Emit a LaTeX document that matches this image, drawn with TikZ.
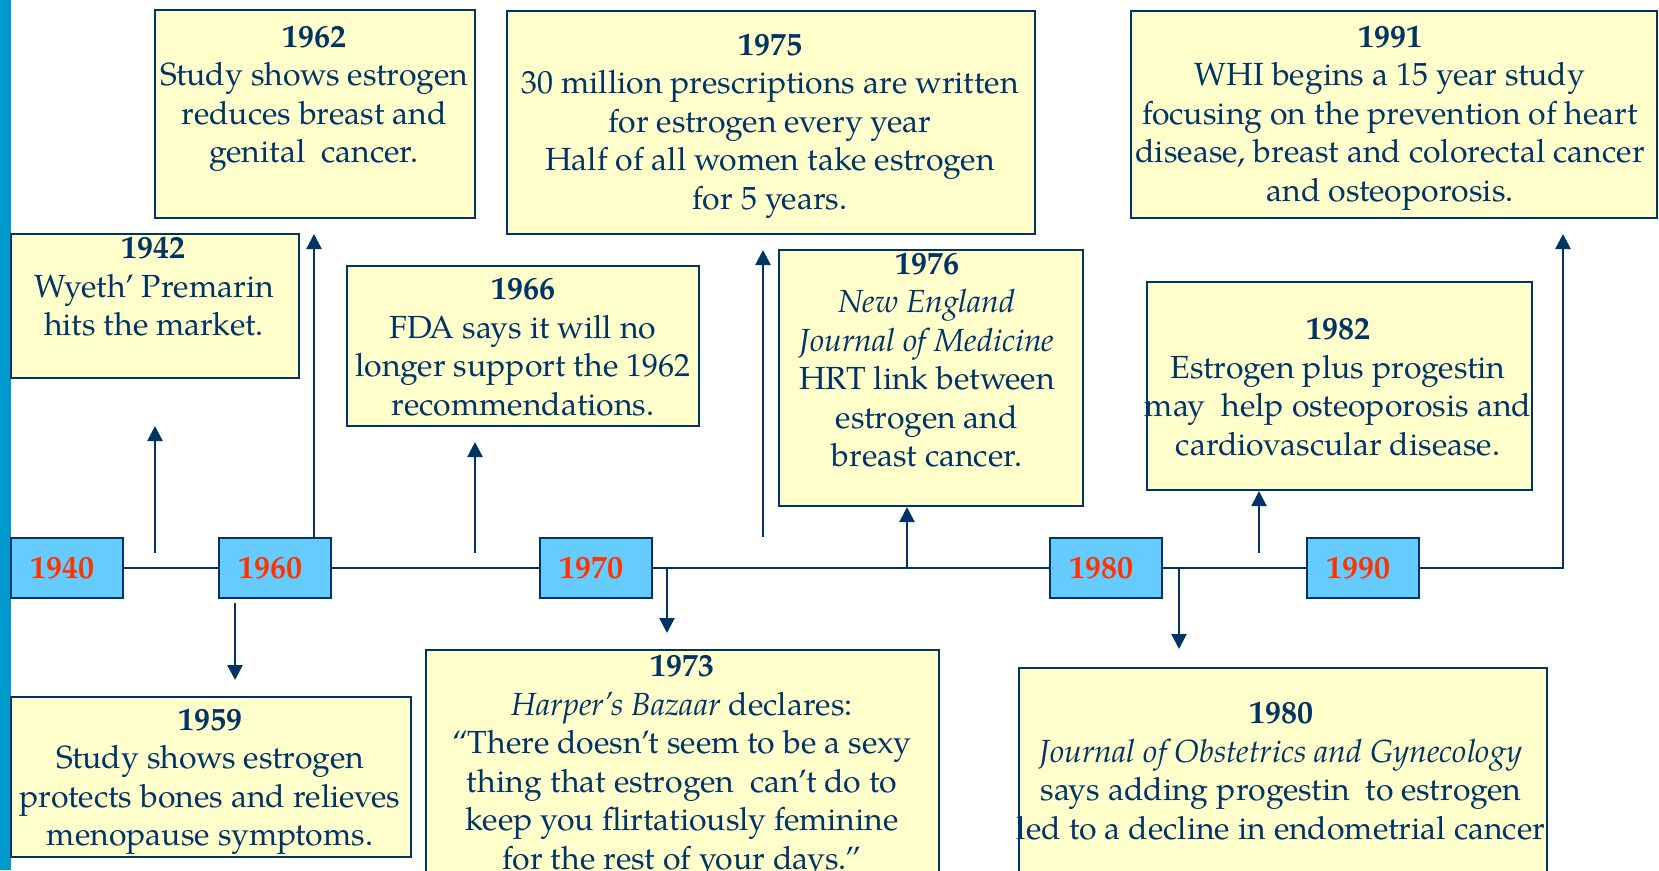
\documentclass[tikz,border=0pt]{standalone}
\usepackage{fontspec}
\setmainfont{texgyrepagella}[Extension=.otf, UprightFont=*-regular, BoldFont=*-bold, ItalicFont=*-italic, BoldItalicFont=*-bolditalic]
\usetikzlibrary{arrows.meta}
\definecolor{inkblue}{HTML}{003366}
\definecolor{paper}{HTML}{FFFFCC}
\definecolor{yearfill}{HTML}{66CCFF}
\definecolor{yearred}{HTML}{FF3300}
\definecolor{barblue}{HTML}{0099CC}
\tikzstyle{card} = [rectangle, draw=inkblue, fill=paper, line width=2.2pt, inner sep=0pt]
\tikzstyle{txt} = [text=inkblue, align=center, inner sep=0pt, font=\fontsize{32}{38.5}\selectfont]
\tikzstyle{year} = [rectangle, draw=inkblue, fill=yearfill, line width=2.6pt, minimum width=112pt, minimum height=60pt, text=yearred, font=\fontsize{32}{38}\selectfont\bfseries]
\tikzstyle{link} = [draw=inkblue, line width=2.4pt]

\begin{document}
\begin{tikzpicture}[x=1pt,y=-1pt,>={Triangle[width=15pt,length=15pt]}]
    \clip (0,0) rectangle (1659,870);
    \fill[white] (0,0) rectangle (1659,870);
    \fill[barblue] (0,0) rectangle (11,870);

    \node at (315,114) [card,minimum width=320pt,minimum height=208pt] (b1962) {};
    \node at (155,306) [card,minimum width=288pt,minimum height=144pt] (b1942) {};
    \node at (523,346) [card,minimum width=352pt,minimum height=160pt] (b1966) {};
    \node at (771,122.5) [card,minimum width=528pt,minimum height=223pt] (b1975) {};
    \node at (931,378) [card,minimum width=304pt,minimum height=256pt] (b1976) {};
    \node at (1394,114.5) [card,minimum width=526pt,minimum height=207pt] (b1991) {};
    \node at (1339.5,386) [card,minimum width=385pt,minimum height=208pt] (b1982) {};
    \node at (211,777) [card,minimum width=400pt,minimum height=160pt] (b1959) {};
    \node at (682.5,775) [card,minimum width=513pt,minimum height=250pt] (b1973) {};
    \node at (1283,784) [card,minimum width=528pt,minimum height=232pt] (b1980) {};

    \node at (314,99) [txt] (t1962) {\textbf{1962}\\Study shows estrogen\\reduces breast and\\genital\ \ cancer.};
    \node at (154,287) [txt] (t1942) {\textbf{1942}\\Wyeth’ Premarin\\hits the market.};
    \node at (523,347) [txt] (t1966) {\textbf{1966}\\FDA says it will no\\longer support the 1962\\recommendations.};
    \node at (770,126) [txt] (t1975) {\textbf{1975}\\30 million prescriptions are written\\for estrogen every year\\Half of all women take estrogen\\for 5 years.};
    \node at (927,360) [txt] (t1976) {\textbf{1976}\\\textit{New England}\\\textit{Journal of Medicine}\\HRT link between\\estrogen and\\breast cancer.};
    \node at (1390,118) [txt] (t1991) {\textbf{1991}\\WHI begins a 15 year study\\focusing on the prevention of heart\\disease, breast and colorectal cancer\\and osteoporosis.};
    \node at (1338,387) [txt] (t1982) {\textbf{1982}\\Estrogen plus progestin\\may\ \ help osteoporosis and\\cardiovascular disease.};
    \node at (210,782) [txt] (t1959) {\textbf{1959}\\Study shows estrogen\\protects bones and relieves\\menopause symptoms.};
    \node at (682,767) [txt] (t1973) {\textbf{1973}\\\textit{Harper’s Bazaar} declares:\\“There doesn’t seem to be a sexy\\thing that estrogen\ \ can’t do to\\keep you flirtatiously feminine\\for the rest of your days.”};
    \node at (1281,771) [txt] (t1980) {\textbf{1980}\\\textit{Journal of Obstetrics and Gynecology}\\says adding progestin\ \ to estrogen\\led to a decline in endometrial cancer};

    \node at (67,568) [year] (y1940) {\hspace*{-10pt}1940};
    \node at (275,568) [year] (y1960) {\hspace*{-10pt}1960};
    \node at (596,568) [year] (y1970) {\hspace*{-10pt}1970};
    \node at (1106,568) [year] (y1980) {\hspace*{-10pt}1980};
    \node at (1363,568) [year] (y1990) {\hspace*{-10pt}1990};

    \coordinate (s1942) at (155,553);
    \coordinate (a1942) at (155,426);
    \coordinate (a1962) at (314,234);
    \coordinate (a1959) at (235,680);
    \coordinate (s1966) at (475,553);
    \coordinate (a1966) at (475,442);
    \coordinate (a1973) at (667,633);
    \coordinate (s1975) at (763,537);
    \coordinate (a1975) at (763,250);
    \coordinate (k1976) at (907,569);
    \coordinate (a1980) at (1179,649);
    \coordinate (s1982) at (1259,553);
    \coordinate (a1991) at (1563,234);

    \draw[link] (y1940) -- (y1960);
    \draw[link] (y1960) -- (y1970);
    \draw[link] (y1970) -- (y1980);
    \draw[link] (y1980) -- (y1990);
    \draw[link,->] (y1990) -| (a1991);

    \draw[link,->] (s1942) -- (a1942);
    \draw[link,->] (y1960.north -| a1962) -- (a1962);
    \draw[link,->,shorten <=4pt] (y1960.south -| a1959) -- (a1959);
    \draw[link,->] (s1966) -- (a1966);
    \draw[link,->] (y1970.east -| a1973) -- (a1973);
    \draw[link,->] (s1975) -- (a1975);
    \draw[link,->] (k1976) -- (b1976.south -| k1976);
    \draw[link,->] (y1980.east -| a1980) -- (a1980);
    \draw[link,->] (s1982) -- (b1982.south -| s1982);

\end{tikzpicture}
\end{document}
